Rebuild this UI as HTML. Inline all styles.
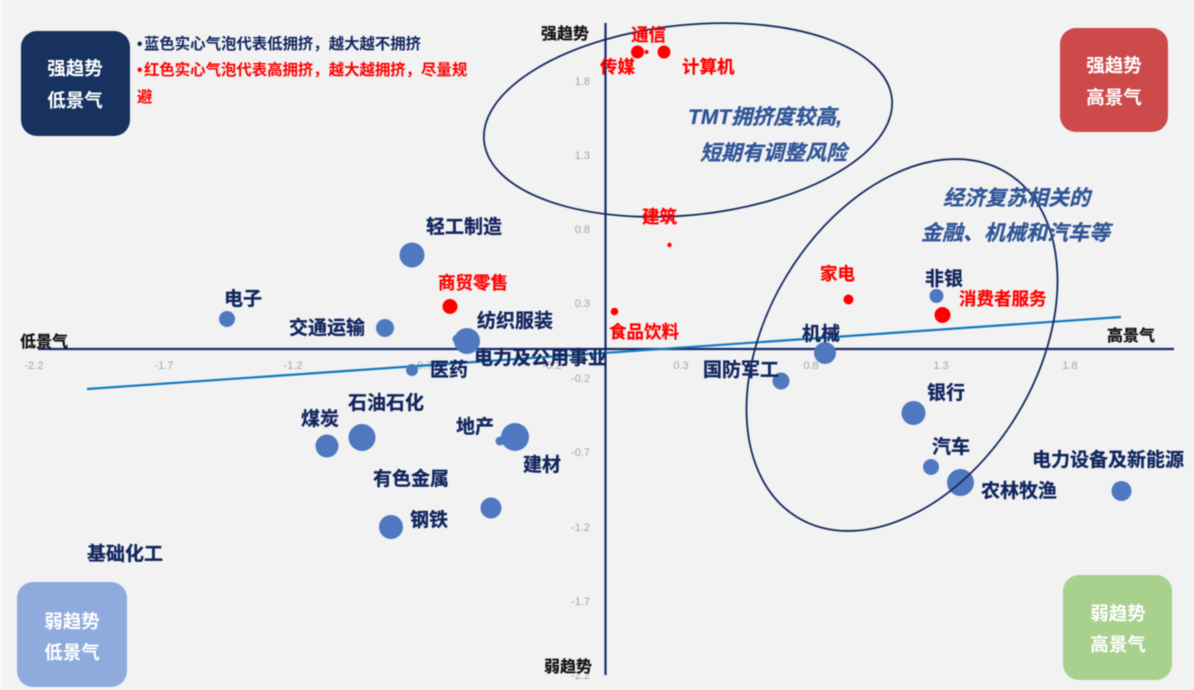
<!DOCTYPE html>
<html lang="zh">
<head>
<meta charset="utf-8">
<title>行业景气度与趋势四象限图</title>
<style>
html,body{margin:0;padding:0;width:1194px;height:690px;overflow:hidden;background:#f2f2f2}
svg{display:block;filter:blur(.45px)}
text{font-family:"Liberation Sans","Noto Sans CJK SC",sans-serif}
.n{font-size:19px;font-weight:700;fill:#12265f;stroke:#12265f;stroke-width:.3px}
.r{font-size:17.5px;font-weight:700;fill:#ff0000;stroke:#ff0000;stroke-width:.2px}
.t{font-size:11px;fill:#a6a6a6;font-family:"Liberation Sans",sans-serif}
.a{font-size:16px;font-weight:700;fill:#111;stroke:#111;stroke-width:.2px}
.w{font-size:18.5px;font-weight:700;fill:#fff;text-anchor:middle}
.i{font-size:21px;font-weight:700;font-style:italic;fill:#2f5597;stroke:#2f5597;stroke-width:.25px}
.l{font-size:15.4px;font-weight:700}
.b{fill:#4f78c1}
.d{fill:#ff0000}
</style>
</head>
<body>
<svg width="1194" height="690" viewBox="0 0 1194 690" xmlns="http://www.w3.org/2000/svg">
<rect width="1194" height="690" fill="#f2f2f2"/>
<rect width="2.5" height="690" fill="#fafafa"/>

<!-- tick labels -->
<g class="t" text-anchor="middle">
<text x="34" y="369">-2.2</text>
<text x="164" y="369">-1.7</text>
<text x="293" y="369">-1.2</text>
<text x="423" y="369">-0.7</text>
<text x="552" y="369">-0.2</text>
<text x="681" y="369">0.3</text>
<text x="811" y="369">0.8</text>
<text x="941" y="369">1.3</text>
<text x="1070" y="369">1.8</text>
</g>
<g class="t" text-anchor="end">
<text x="590" y="85">1.8</text>
<text x="590" y="159">1.3</text>
<text x="590" y="233">0.8</text>
<text x="590" y="307">0.3</text>
<text x="590" y="382">-0.2</text>
<text x="590" y="456">-0.7</text>
<text x="590" y="531">-1.2</text>
<text x="590" y="605">-1.7</text>
<text x="590" y="679">-2.2</text>
</g>

<!-- axes -->
<line x1="38" y1="349" x2="1174" y2="349" stroke="#152a6b" stroke-width="2.2"/>
<line x1="605.5" y1="23" x2="605.5" y2="675" stroke="#152a6b" stroke-width="2.2"/>

<!-- trend line -->
<line x1="87" y1="389" x2="1121" y2="317" stroke="#1279c0" stroke-width="2.2"/>

<!-- bubbles -->
<circle class="b" cx="227" cy="319" r="8"/>
<circle class="b" cx="385" cy="328" r="9"/>
<circle class="b" cx="412" cy="255" r="12.5"/>
<circle class="b" cx="457" cy="339" r="4.5"/>
<circle class="b" cx="467" cy="341" r="13"/>
<circle class="b" cx="412" cy="370" r="6"/>
<circle class="b" cx="362" cy="437.500" r="13.500"/>
<circle class="b" cx="327" cy="446" r="11.500"/>
<circle class="b" cx="500" cy="441" r="4.500"/>
<circle class="b" cx="515" cy="437" r="14"/>
<circle class="b" cx="491" cy="508" r="10.500"/>
<circle class="b" cx="391" cy="527" r="12"/>
<circle class="b" cx="936.500" cy="296" r="7"/>
<circle class="b" cx="825" cy="353" r="11"/>
<circle class="b" cx="781" cy="381" r="8.500"/>
<circle class="b" cx="913.500" cy="413" r="12"/>
<circle class="b" cx="931" cy="467" r="8"/>
<circle class="b" cx="960.500" cy="482.500" r="13.500"/>
<circle class="b" cx="1121.500" cy="491" r="10"/>

<circle class="d" cx="450" cy="306.500" r="7.500"/>
<circle class="d" cx="614.500" cy="311.500" r="3.800"/>
<circle class="d" cx="669.500" cy="245" r="2.200"/>
<circle class="d" cx="637.500" cy="52" r="6.500"/>
<circle class="d" cx="646.500" cy="52" r="2"/>
<circle class="d" cx="664" cy="52" r="6.500"/>
<circle class="d" cx="848.500" cy="299.500" r="5"/>
<circle class="d" cx="942.500" cy="315" r="8"/>

<!-- ellipses -->
<ellipse cx="688" cy="120" rx="205" ry="95" transform="rotate(-6 688 120)" fill="none" stroke="#14295e" stroke-width="1.8"/>
<ellipse cx="902" cy="345" rx="201.600" ry="134.600" transform="rotate(-58.75 902 345)" fill="none" stroke="#14295e" stroke-width="1.8"/>

<!-- quadrant boxes -->
<rect x="21" y="31" width="109" height="105" rx="16" fill="#17325f"/>
<rect x="1060" y="28" width="108" height="104" rx="16" fill="#cd4a4a"/>
<rect x="17" y="582" width="110" height="105" rx="16" fill="#8faadc"/>
<rect x="1063" y="575" width="109" height="105" rx="16" fill="#a9d18e"/>
<text class="w" x="75" y="75">强趋势</text>
<text class="w" x="75" y="107">低景气</text>
<text class="w" x="1114" y="72">强趋势</text>
<text class="w" x="1114" y="104">高景气</text>
<text class="w" x="72" y="628">弱趋势</text>
<text class="w" x="72" y="659">低景气</text>
<text class="w" x="1118" y="620">弱趋势</text>
<text class="w" x="1118" y="651">高景气</text>

<!-- legend -->
<text class="l" x="137" y="49" fill="#12265f">•</text>
<text class="l" x="144" y="49" fill="#12265f">蓝色实心气泡代表低拥挤，越大越不拥挤</text>
<text class="l" x="137" y="75" fill="#ff0000">•</text>
<text class="l" x="144" y="75" fill="#ff0000">红色实心气泡代表高拥挤，越大越拥挤，尽量规</text>
<text class="l" x="137" y="102" fill="#ff0000">避</text>

<!-- axis labels -->
<text class="a" x="541" y="39">强趋势</text>
<text class="a" x="20" y="347">低景气</text>
<text class="a" x="1107" y="341">高景气</text>
<text class="a" x="544" y="672">弱趋势</text>

<!-- annotations -->
<text class="i" x="688" y="124">TMT拥挤度较高,</text>
<text class="i" x="700" y="160">短期有调整风险</text>
<text class="i" x="943" y="205">经济复苏相关的</text>
<text class="i" x="921" y="240">金融、机械和汽车等</text>

<!-- navy labels -->
<text class="n" x="426" y="233">轻工制造</text>
<text class="n" x="224" y="305">电子</text>
<text class="n" x="289" y="334">交通运输</text>
<text class="n" x="477" y="327">纺织服装</text>
<text class="n" x="474" y="364">电力及公用事业</text>
<text class="n" x="430" y="376">医药</text>
<text class="n" x="348" y="409">石油石化</text>
<text class="n" x="301" y="425">煤炭</text>
<text class="n" x="456" y="433">地产</text>
<text class="n" x="523" y="471">建材</text>
<text class="n" x="373" y="485">有色金属</text>
<text class="n" x="410" y="526">钢铁</text>
<text class="n" x="87" y="560">基础化工</text>
<text class="n" x="925" y="285">非银</text>
<text class="n" x="802" y="340">机械</text>
<text class="n" x="703" y="376">国防军工</text>
<text class="n" x="927" y="399">银行</text>
<text class="n" x="932" y="453">汽车</text>
<text class="n" x="1032" y="466">电力设备及新能源</text>
<text class="n" x="981" y="497">农林牧渔</text>

<!-- red labels -->
<text class="r" x="631" y="41">通信</text>
<text class="r" x="600" y="73">传媒</text>
<text class="r" x="682" y="73">计算机</text>
<text class="r" x="642" y="223">建筑</text>
<text class="r" x="820" y="280">家电</text>
<text class="r" x="438" y="289">商贸零售</text>
<text class="r" x="959" y="305">消费者服务</text>
<text class="r" x="609" y="338">食品饮料</text>
</svg>
</body>
</html>
